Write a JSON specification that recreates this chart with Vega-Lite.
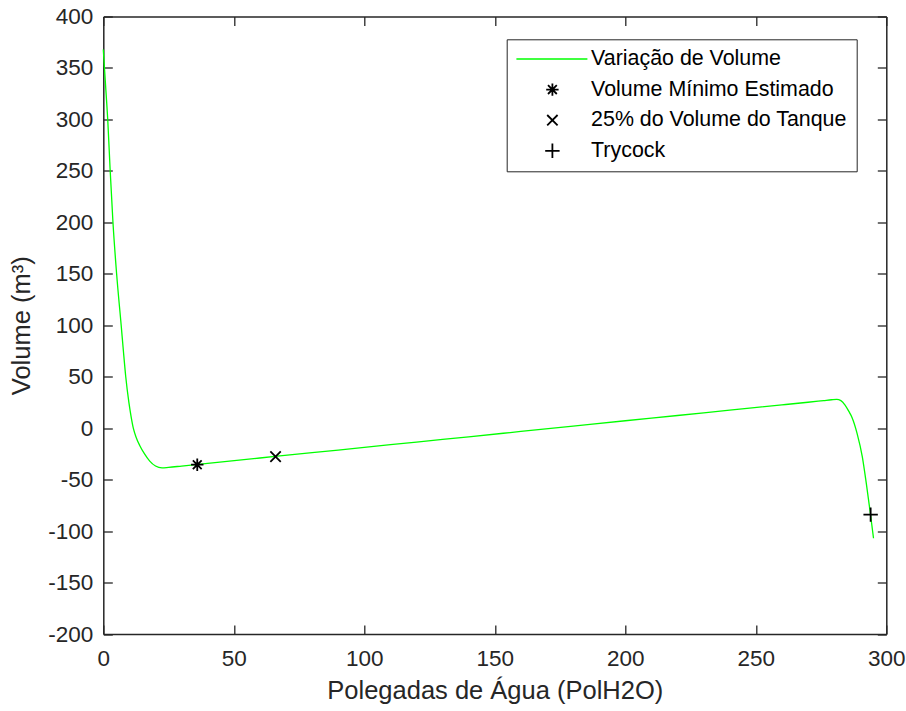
{
  "$schema": "https://vega.github.io/schema/vega-lite/v6.json",
  "autosize": {"type": "none"},
  "padding": {"left": 103.3, "top": 16.5, "right": 19.7, "bottom": 77},
  "width": 783,
  "height": 617.5,
  "background": "white",
  "datasets": {
    "curve": [
      {"x": 0, "y": 368, "series": "Variação de Volume"},
      {"x": 0.5, "y": 348, "series": "Variação de Volume"},
      {"x": 1.0, "y": 328, "series": "Variação de Volume"},
      {"x": 1.7, "y": 300, "series": "Variação de Volume"},
      {"x": 2.6, "y": 252, "series": "Variação de Volume"},
      {"x": 3.7, "y": 200, "series": "Variação de Volume"},
      {"x": 5.1, "y": 150, "series": "Variação de Volume"},
      {"x": 6.85, "y": 100, "series": "Variação de Volume"},
      {"x": 7.7, "y": 75, "series": "Variação de Volume"},
      {"x": 8.6, "y": 50, "series": "Variação de Volume"},
      {"x": 9.8, "y": 25, "series": "Variação de Volume"},
      {"x": 10.6, "y": 12, "series": "Variação de Volume"},
      {"x": 11.5, "y": 0, "series": "Variação de Volume"},
      {"x": 12.6, "y": -9, "series": "Variação de Volume"},
      {"x": 14.0, "y": -17, "series": "Variação de Volume"},
      {"x": 15.8, "y": -25, "series": "Variação de Volume"},
      {"x": 17.8, "y": -32, "series": "Variação de Volume"},
      {"x": 20.0, "y": -36.8, "series": "Variação de Volume"},
      {"x": 22.5, "y": -38.6, "series": "Variação de Volume"},
      {"x": 25, "y": -38.1, "series": "Variação de Volume"},
      {"x": 30, "y": -36.8, "series": "Variação de Volume"},
      {"x": 40, "y": -34.2, "series": "Variação de Volume"},
      {"x": 60, "y": -29.0, "series": "Variação de Volume"},
      {"x": 80, "y": -23.8, "series": "Variação de Volume"},
      {"x": 100, "y": -18.7, "series": "Variação de Volume"},
      {"x": 120, "y": -13.5, "series": "Variação de Volume"},
      {"x": 140, "y": -8.4, "series": "Variação de Volume"},
      {"x": 160, "y": -3.2, "series": "Variação de Volume"},
      {"x": 180, "y": 2.0, "series": "Variação de Volume"},
      {"x": 200, "y": 7.2, "series": "Variação de Volume"},
      {"x": 220, "y": 12.3, "series": "Variação de Volume"},
      {"x": 240, "y": 17.5, "series": "Variação de Volume"},
      {"x": 260, "y": 22.6, "series": "Variação de Volume"},
      {"x": 270, "y": 25.2, "series": "Variação de Volume"},
      {"x": 276, "y": 26.8, "series": "Variação de Volume"},
      {"x": 279, "y": 27.6, "series": "Variação de Volume"},
      {"x": 281, "y": 28.0, "series": "Variação de Volume"},
      {"x": 282.6, "y": 26.8, "series": "Variação de Volume"},
      {"x": 284.2, "y": 22.5, "series": "Variação de Volume"},
      {"x": 285.6, "y": 16.5, "series": "Variação de Volume"},
      {"x": 286.9, "y": 10.2, "series": "Variação de Volume"},
      {"x": 288.8, "y": -5, "series": "Variação de Volume"},
      {"x": 290.8, "y": -27.7, "series": "Variação de Volume"},
      {"x": 292.3, "y": -53, "series": "Variação de Volume"},
      {"x": 293.8, "y": -81, "series": "Variação de Volume"},
      {"x": 295.1, "y": -107, "series": "Variação de Volume"}
    ],
    "markers": [
      {"x": 36, "y": -35.5, "series": "Volume Mínimo Estimado"},
      {"x": 66, "y": -27.6, "series": "25% do Volume do Tanque"},
      {"x": 294, "y": -84, "series": "Trycock"}
    ]
  },
  "config": {
    "view": {"stroke": null},
    "font": "Liberation Sans",
    "axis": {
      "grid": false,
      "domainColor": "#262626",
      "domainWidth": 1.5,
      "tickColor": "#262626",
      "tickWidth": 1.3,
      "tickSize": -9,
      "labelFont": "Liberation Sans",
      "labelFontSize": 22.5,
      "labelColor": "#262626",
      "titleFont": "Liberation Sans",
      "titleFontSize": 25.5,
      "titleFontWeight": "normal",
      "titleColor": "#262626"
    }
  },
  "layer": [
    {
      "data": {"name": "curve"},
      "mark": {"type": "line", "strokeWidth": 1.3, "interpolate": "monotone"},
      "encoding": {
        "x": {
          "field": "x", "type": "quantitative",
          "scale": {"domain": [0, 300], "nice": false, "zero": false},
          "axis": {"orient": "bottom", "values": [0, 50, 100, 150, 200, 250, 300], "title": "Polegadas de Água (PolH2O)", "labelPadding": 22.7, "titlePadding": 8, "labelFlush": false}
        },
        "y": {
          "field": "y", "type": "quantitative",
          "scale": {"domain": [-200, 400], "nice": false, "zero": false},
          "axis": {"orient": "left", "values": [-200, -150, -100, -50, 0, 50, 100, 150, 200, 250, 300, 350, 400], "title": "Volume (m³)", "labelPadding": 19.6, "titlePadding": 13, "labelFlush": false, "labelExpr": "replace(datum.label, '−', '-')"}
        },
        "color": {
          "field": "series", "type": "nominal",
          "scale": {
            "domain": ["Variação de Volume", "Volume Mínimo Estimado", "25% do Volume do Tanque", "Trycock"],
            "range": ["#00ff00", "#000000", "#000000", "#000000"]
          },
          "legend": {
            "title": null,
            "orient": "none",
            "legendX": 403.4,
            "legendY": 22.8,
            "padding": 9,
            "rowPadding": 7.6,
            "symbolSize": 400,
            "symbolOffset": 26,
            "labelOffset": 28,
            "labelFont": "Liberation Sans",
            "labelFontSize": 21.4,
            "labelColor": "#000000",
            "labelLimit": 400,
            "strokeColor": "#262626",
            "fillColor": "white",
            "symbolStrokeWidth": 1.8,
            "encode": {"symbols": {"update": {"strokeWidth": {"signal": "datum.value === 'Variação de Volume' ? 1.3 : 1.8"}}}}
          }
        }
      }
    },
    {
      "data": {"name": "markers"},
      "mark": {"type": "point", "filled": false, "size": 400, "strokeWidth": 1.8, "opacity": 1},
      "encoding": {
        "x": {
          "field": "x", "type": "quantitative",
          "scale": {"domain": [0, 300], "nice": false, "zero": false},
          "axis": {"orient": "top", "values": [0, 50, 100, 150, 200, 250, 300], "labels": false, "title": null}
        },
        "y": {
          "field": "y", "type": "quantitative",
          "scale": {"domain": [-200, 400], "nice": false, "zero": false},
          "axis": {"orient": "right", "values": [-200, -150, -100, -50, 0, 50, 100, 150, 200, 250, 300, 350, 400], "labels": false, "title": null}
        },
        "color": {
          "field": "series", "type": "nominal",
          "scale": {
            "domain": ["Variação de Volume", "Volume Mínimo Estimado", "25% do Volume do Tanque", "Trycock"],
            "range": ["#00ff00", "#000000", "#000000", "#000000"]
          },
          "legend": {"title": null}
        },
        "shape": {
          "field": "series", "type": "nominal",
          "scale": {
            "domain": ["Variação de Volume", "Volume Mínimo Estimado", "25% do Volume do Tanque", "Trycock"],
            "range": [
              "M-3.6,0L3.5,0",
              "M-0.62,0L0.62,0M0,-0.62L0,0.62M-0.44,-0.44L0.44,0.44M-0.44,0.44L0.44,-0.44",
              "M-0.52,-0.52L0.52,0.52M-0.52,0.52L0.52,-0.52",
              "M-0.72,0L0.72,0M0,-0.72L0,0.72"
            ]
          },
          "legend": {"title": null}
        }
      }
    }
  ],
  "resolve": {"axis": {"x": "independent", "y": "independent"}}
}
